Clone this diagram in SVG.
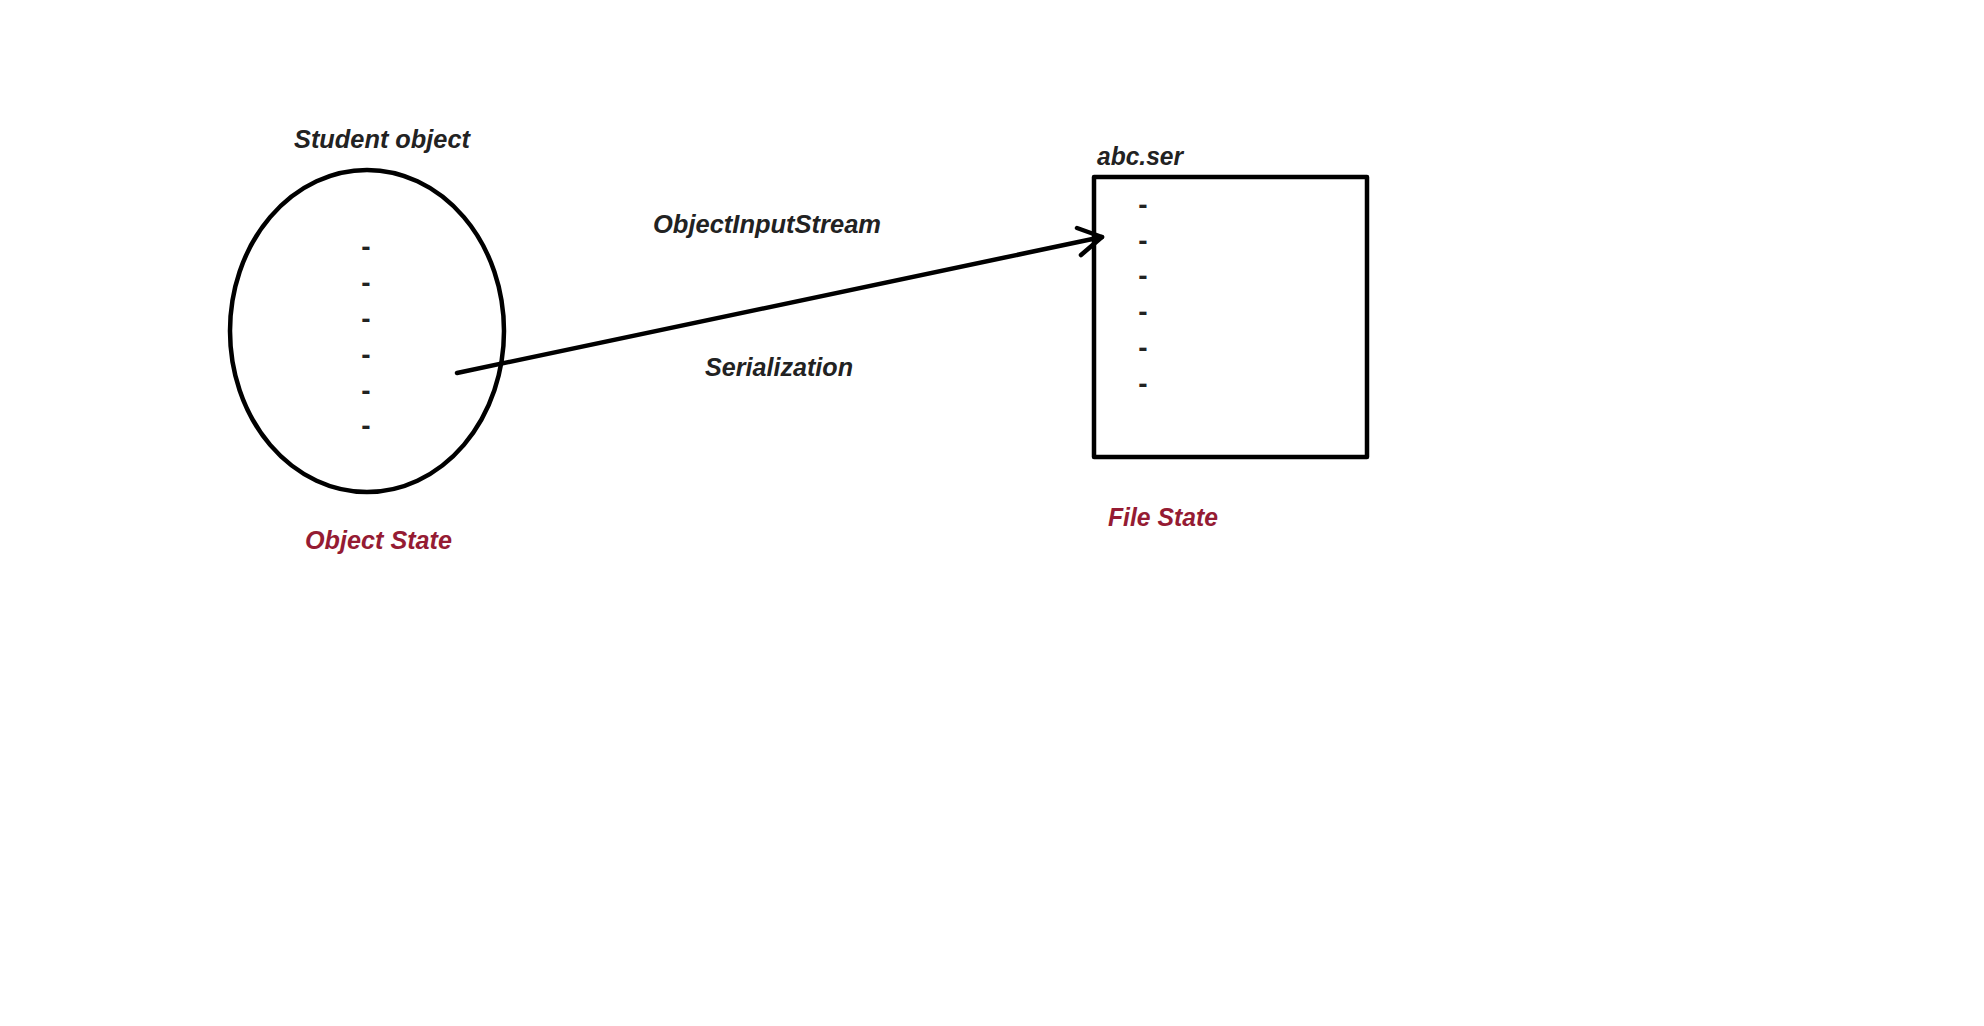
<svg xmlns="http://www.w3.org/2000/svg" width="1984" height="1026" viewBox="0 0 1984 1026">
<style>
.t{font-family:"Liberation Sans",Arial,sans-serif;font-weight:bold;font-style:italic;font-size:25px;fill:#222}
.r{fill:#951b33}
.d{font-family:"Liberation Sans",Arial,sans-serif;font-weight:bold;font-size:28px;fill:#222;text-anchor:middle}
.s{fill:none;stroke:#000;stroke-width:4.5;stroke-linecap:round;stroke-linejoin:round}
</style>
<rect width="1984" height="1026" fill="#fff"/>
<g id="object">
<ellipse class="s" cx="367" cy="331" rx="137" ry="161"/>
<text class="t" x="294" y="148" textLength="176" lengthAdjust="spacingAndGlyphs">Student object</text>
<text class="d" x="366" y="256">-</text>
<text class="d" x="366" y="292">-</text>
<text class="d" x="366" y="328">-</text>
<text class="d" x="366" y="364">-</text>
<text class="d" x="366" y="400">-</text>
<text class="d" x="366" y="435">-</text>
<text class="t r" x="305" y="549" textLength="147" lengthAdjust="spacingAndGlyphs">Object State</text>
</g>
<g id="file">
<rect class="s" x="1094" y="177" width="273" height="280" stroke-linecap="butt" stroke-linejoin="miter"/>
<text class="t" x="1097" y="165" textLength="86" lengthAdjust="spacingAndGlyphs">abc.ser</text>
<text class="d" x="1143" y="214">-</text>
<text class="d" x="1143" y="250">-</text>
<text class="d" x="1143" y="285">-</text>
<text class="d" x="1143" y="321">-</text>
<text class="d" x="1143" y="357">-</text>
<text class="d" x="1143" y="393">-</text>
<text class="t r" x="1108" y="526" textLength="110" lengthAdjust="spacingAndGlyphs">File State</text>
</g>
<g id="connectors">
<line class="s" x1="457" y1="373" x2="1102" y2="237"/>
<polyline class="s" points="1077,228 1102,237 1081,255"/>
<text class="t" x="653" y="233" textLength="228" lengthAdjust="spacingAndGlyphs">ObjectInputStream</text>
<text class="t" x="705" y="376" textLength="148" lengthAdjust="spacingAndGlyphs">Serialization</text>
</g>
</svg>
